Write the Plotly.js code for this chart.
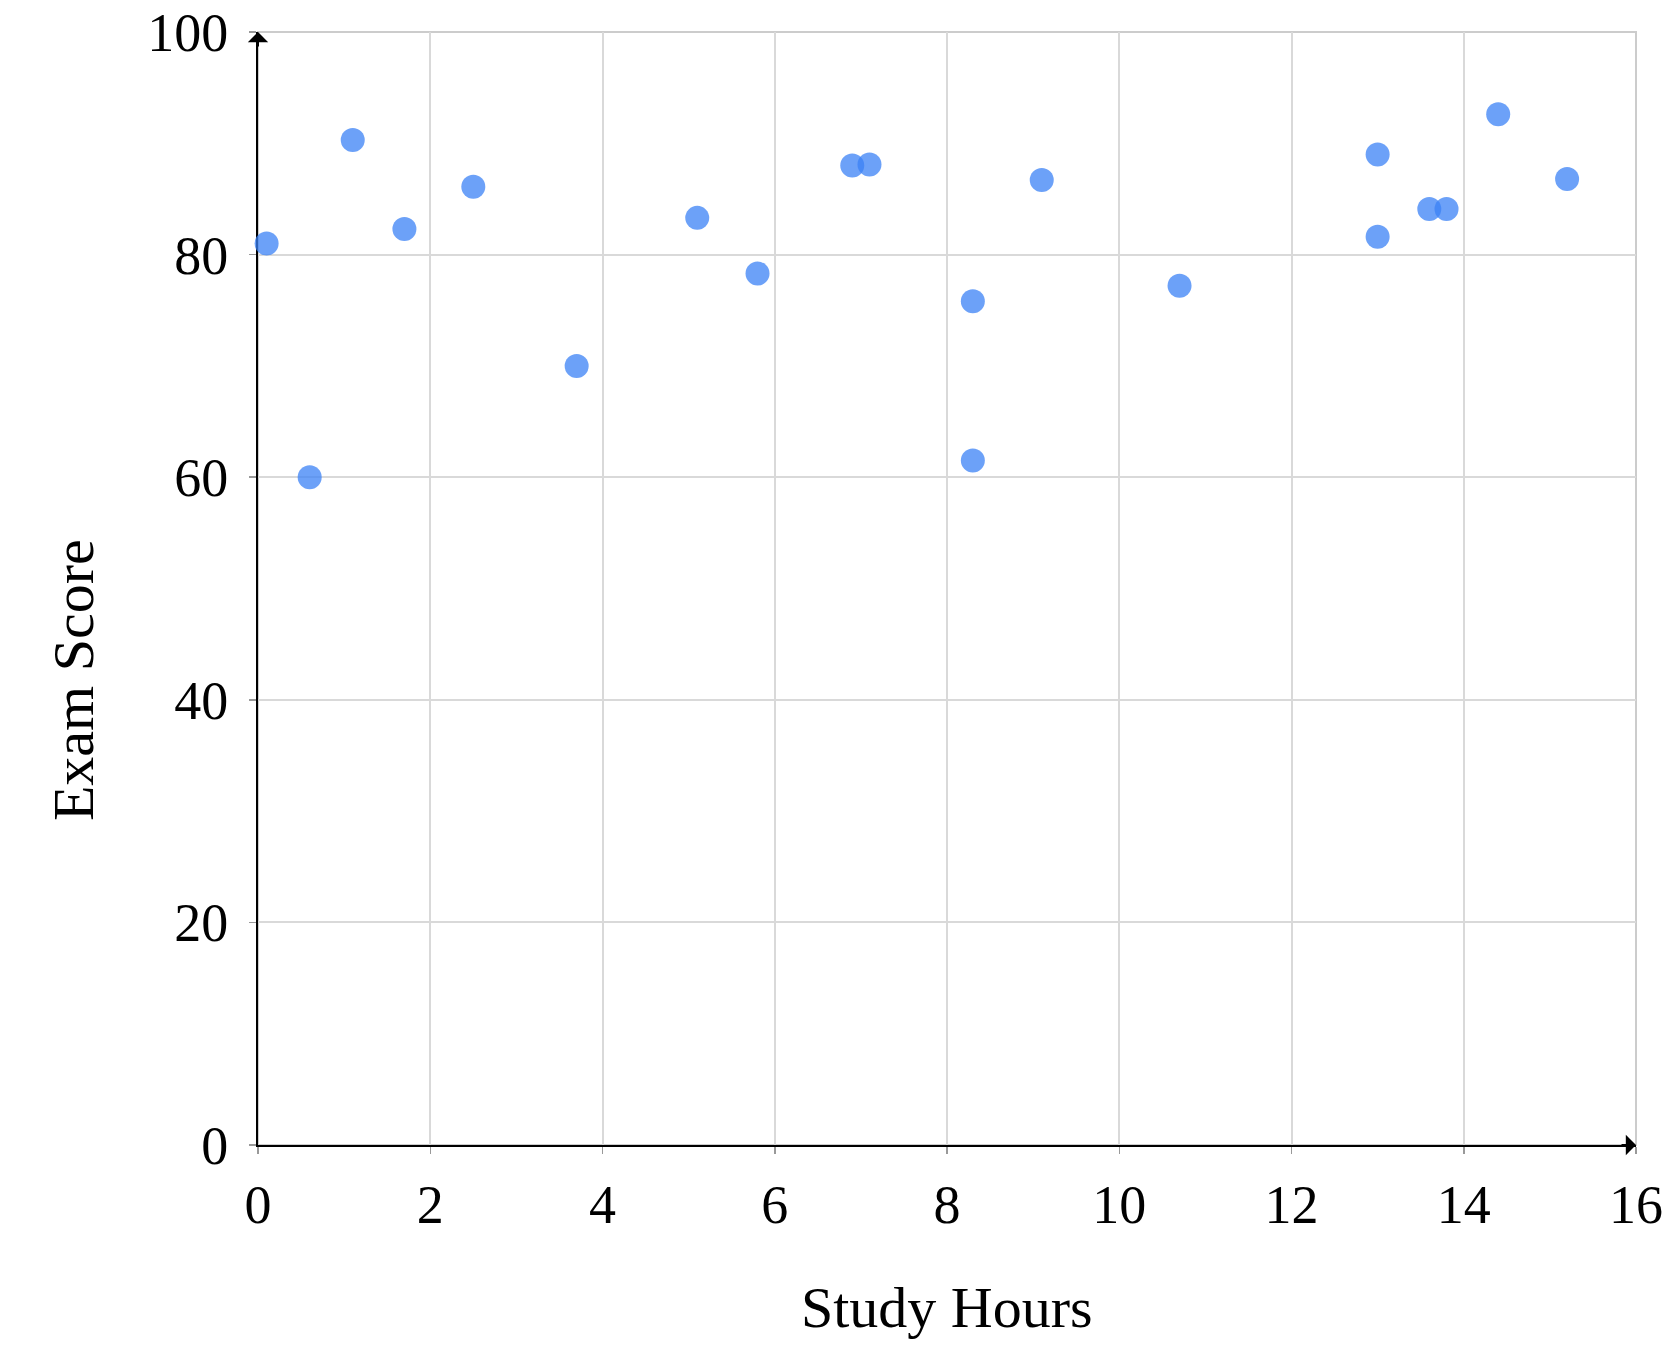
<!DOCTYPE html>
<html>
<head>
<meta charset="utf-8">
<script src="https://cdn.plot.ly/plotly-3.0.1.min.js"></script>
<style>html,body{margin:0;padding:0;background:#fff;}#chart{width:1670px;height:1348px;}</style>
</head>
<body>
<div id="chart"></div>
<script>
const studyHours = [0.1, 0.6, 1.1, 1.7, 2.5, 3.7, 5.1, 5.8, 6.9, 7.1, 8.3, 8.3, 9.1, 10.7, 13.0, 13.0, 13.6, 13.8, 14.4, 15.2];
const examScores = [81.0, 60.0, 90.3, 82.3, 86.1, 70.0, 83.3, 78.3, 88.0, 88.1, 75.8, 61.5, 86.7, 77.2, 89.0, 81.6, 84.1, 84.1, 92.6, 86.8];
const xTicks = [0, 2, 4, 6, 8, 10, 12, 14, 16];
const yTicks = [0, 20, 40, 60, 80, 100];
const xTitle = 'Study Hours';
const yTitle = 'Exam Score';

const fontFamily = '"Liberation Serif", "DejaVu Serif", serif';

const trace = {
  type: 'scatter',
  mode: 'markers',
  x: studyHours,
  y: examScores,
  cliponaxis: false,
  marker: {size: 24, color: 'rgba(59,130,246,0.75)', line: {width: 0}},
  hoverinfo: 'x+y'
};

const axisCommon = {
  showgrid: true,
  gridcolor: '#d9d9d9',
  gridwidth: 2,
  zeroline: false,
  showline: true,
  linecolor: '#000',
  linewidth: 2,
  ticks: 'outside',
  ticklen: 7,
  tickwidth: 1.5,
  tickcolor: '#999',
  tickfont: {family: fontFamily, size: 54, color: '#000'},
  layer: 'below traces',
  fixedrange: true
};

const layout = {
  width: 1670,
  height: 1348,
  margin: {l: 258, r: 34, t: 32, b: 203},
  paper_bgcolor: '#fff',
  plot_bgcolor: '#fff',
  showlegend: false,
  xaxis: Object.assign({}, axisCommon, {
    range: [0, 16],
    tickmode: 'array',
    tickvals: xTicks,
    ticktext: xTicks.map(String),
    ticklabelstandoff: 4
  }),
  yaxis: Object.assign({}, axisCommon, {
    range: [0, 100],
    tickmode: 'array',
    tickvals: yTicks,
    ticktext: yTicks.map(String),
    ticklabelstandoff: 10
  }),
  shapes: [{
    type: 'rect', xref: 'paper', yref: 'paper', x0: 0, y0: 0, x1: 1, y1: 1,
    line: {color: '#cccccc', width: 2}, layer: 'below'
  }],
  annotations: [
    {
      text: xTitle, xref: 'paper', yref: 'paper', x: 0.5, y: -0.146,
      xanchor: 'center', yanchor: 'middle', showarrow: false,
      font: {family: fontFamily, size: 58, color: '#000'}
    },
    {
      text: yTitle, xref: 'paper', yref: 'paper', x: -0.134, y: 0.418,
      xanchor: 'center', yanchor: 'middle', showarrow: false, textangle: -90,
      font: {family: fontFamily, size: 58, color: '#000'}
    },
    {
      text: '', x: 16, y: 0, xref: 'x', yref: 'y', ax: -16, ay: 0,
      showarrow: true, arrowhead: 1, arrowsize: 1.7, arrowwidth: 2, arrowcolor: '#000'
    },
    {
      text: '', x: 0, y: 100, xref: 'x', yref: 'y', ax: 0, ay: 16,
      showarrow: true, arrowhead: 1, arrowsize: 1.7, arrowwidth: 2, arrowcolor: '#000'
    }
  ]
};

Plotly.newPlot('chart', [trace], layout, {displayModeBar: false, staticPlot: true});
</script>
</body>
</html>
